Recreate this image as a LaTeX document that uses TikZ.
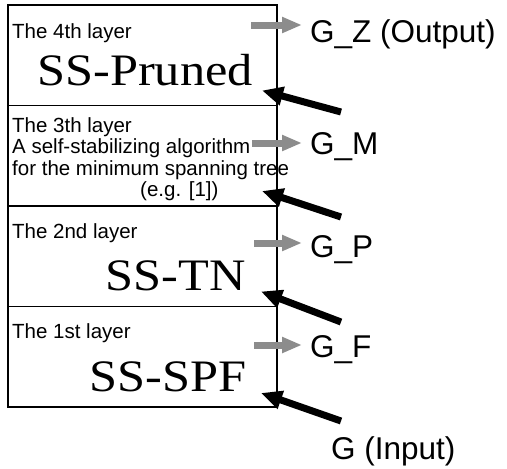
\documentclass[tikz,border=0pt]{standalone}
\usepackage{fontspec}
\setmainfont{Liberation Sans}
\newfontfamily\algofont[FakeStretch=1.12]{Liberation Serif}
\usetikzlibrary{arrows.meta}

\tikzset{
  layerbox/.style={draw, line width=1.2pt, minimum width=269pt, minimum height=100.5pt,
    inner sep=0pt, outer sep=0pt, anchor=north west},
  layertitle/.style={anchor=base west, inner sep=0pt, align=left,
    font=\fontsize{20.5}{21.5}\selectfont},
  algo/.style={anchor=base east, inner sep=0pt, font=\algofont\fontsize{45}{45}\selectfont},
  glabel/.style={anchor=base west, inner sep=0pt, font=\fontsize{31.5}{31.5}\selectfont},
  outarrow/.style={line width=7pt, black!45, -{Triangle[length=20pt,width=15pt]}},
  inarrow/.style={line width=7pt, -{Triangle[length=21pt,width=18pt]}},
}

\begin{document}
\begin{tikzpicture}[x=1pt, y=-1pt]
  \useasboundingbox (0,0) rectangle (507,469);

  % the four layers, top to bottom
  \node[layerbox] (l4) at (8,5) {};
  \node[layerbox] (l3) at (8,105.5) {};
  \node[layerbox] (l2) at (8,206) {};
  \node[layerbox] (l1) at (8,306.5) {};

  \node[layertitle] (t4) at (12,38) {The 4th layer};
  \node[algo] (a4) at (253,85) {SS-Pruned};

  \node[layertitle, anchor=north west] (t3) at (12,117) {The 3th layer\\
    A self-stabilizing algorithm\\
    for the minimum spanning tree};
  \node[layertitle] (e3) at (140,196) {(e.g. [1])};

  \node[layertitle] (t2) at (12,238) {The 2nd layer};
  \node[algo] (a2) at (246,290) {SS-TN};

  \node[layertitle] (t1) at (12,338) {The 1st layer};
  \node[algo] (a1) at (247,391) {SS-SPF};

  % graphs between the layers
  \node[glabel] (gz) at (310,42) {G\_Z (Output)};
  \node[glabel] (gm) at (310,154) {G\_M};
  \node[glabel] (gp) at (310,257) {G\_P};
  \node[glabel] (gf) at (310,357) {G\_F};
  \node[glabel] (g) at (331,459) {G (Input)};

  % outputs of each layer
  \coordinate (o4) at (251,25);
  \coordinate (o3) at (252,143);
  \coordinate (o2) at (254,243);
  \coordinate (o1) at (254,345);
  \draw[outarrow] (o4) -- ([xshift=-8pt]gz.west |- o4);
  \draw[outarrow] (o3) -- ([xshift=-8pt]gm.west |- o3);
  \draw[outarrow] (o2) -- ([xshift=-8pt]gp.west |- o2);
  \draw[outarrow] (o1) -- ([xshift=-8pt]gf.west |- o1);

  % inputs of each layer
  \coordinate (i4) at (341,112);
  \coordinate (i3) at (341,217);
  \coordinate (i2) at (341,322);
  \coordinate (i1) at (341,421);
  \draw[inarrow] (i4) -- ([shift={(-15pt,15pt)}]l4.south east);
  \draw[inarrow] (i3) -- ([shift={(-15pt,15pt)}]l3.south east);
  \draw[inarrow] (i2) -- ([shift={(-16pt,15pt)}]l2.south east);
  \draw[inarrow] (i1) -- ([shift={(-16pt,14pt)}]l1.south east);
\end{tikzpicture}
\end{document}
